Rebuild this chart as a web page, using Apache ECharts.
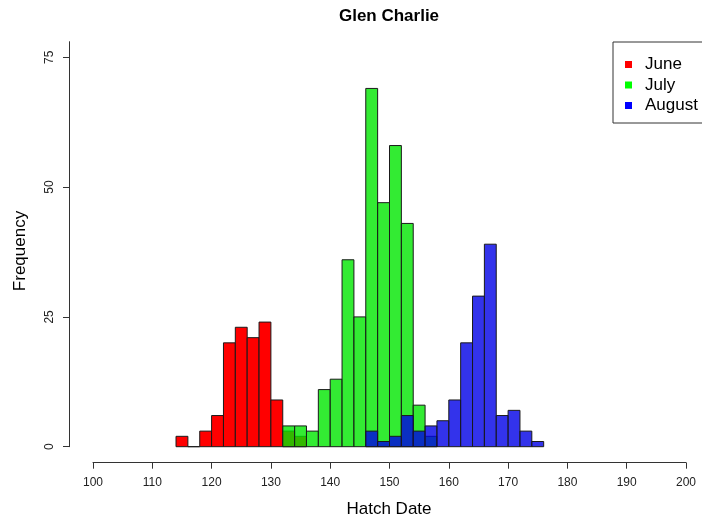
<!DOCTYPE html>
<html>
<head>
<meta charset="utf-8">
<script src="https://cdn.jsdelivr.net/npm/echarts@6/dist/echarts.min.js"></script>
<style>
html,body{margin:0;padding:0;background:#fff;}
#chart{width:702px;height:524px;}
</style>
</head>
<body>
<div id="chart"></div>
<script>
// Histogram bins (left edges, width 2 days) and counts
var binWidth = 2;
var juneEdges   = [114, 116, 118, 120, 122, 124, 126, 128, 130, 132, 134];
var juneCounts  = [2, 0, 3, 6, 20, 23, 21, 24, 9, 3, 2];
var julyEdges   = [132, 134, 136, 138, 140, 142, 144, 146, 148, 150, 152, 154, 156];
var julyCounts  = [4, 4, 3, 11, 13, 36, 25, 69, 47, 58, 43, 8, 2];
var augustEdges = [146, 148, 150, 152, 154, 156, 158, 160, 162, 164, 166, 168, 170, 172, 174];
var augustCounts= [3, 1, 2, 6, 3, 4, 5, 9, 20, 29, 39, 6, 7, 3, 1];
var xTicks = [100, 110, 120, 130, 140, 150, 160, 170, 180, 190, 200];
var yTicks = [0, 25, 50, 75];
var seriesNames = ['June', 'July', 'August'];

function toData(edges, counts) {
  return edges.map(function (e, i) { return [e, e + binWidth, counts[i]]; });
}

var FONT = '"Liberation Sans", Arial, sans-serif';

function makeSeries(name, edges, counts, legendColor, fill) {
  return {
    type: 'custom',
    name: name,
    itemStyle: { color: legendColor },
    encode: { x: [0, 1], y: 2 },
    data: toData(edges, counts),
    renderItem: function (params, api) {
      var x0 = api.value(0), x1 = api.value(1), v = api.value(2);
      var pTop = api.coord([x0, v]);
      var pBot = api.coord([x1, 0]);
      return {
        type: 'rect',
        shape: { x: pTop[0], y: pTop[1], width: pBot[0] - pTop[0], height: pBot[1] - pTop[1] },
        style: { fill: fill, stroke: '#1a1a1a', lineWidth: 1 }
      };
    }
  };
}

var chart = echarts.init(document.getElementById('chart'), null, { renderer: 'canvas' });
chart.setOption({
  animation: false,
  backgroundColor: '#ffffff',
  title: {
    text: 'Glen Charlie',
    left: 389,
    textAlign: 'center',
    top: 8,
    padding: 0,
    textStyle: { fontFamily: FONT, fontSize: 17, fontWeight: 'bold', color: '#000' }
  },
  legend: {
    data: seriesNames,
    orient: 'vertical',
    left: 613,
    top: 42,
    selectedMode: false,
    icon: 'rect',
    itemWidth: 7,
    itemHeight: 7,
    itemGap: 0.5,
    padding: [12.5, 14, 7.5, 12],
    borderColor: '#333',
    borderWidth: 1,
    textStyle: { fontFamily: FONT, fontSize: 17, color: '#000', lineHeight: 20, padding: [0, 0, 0, 8] }
  },
  grid: { left: 93, right: 16, top: 41.7, bottom: 77.3, containLabel: false },
  xAxis: {
    type: 'value',
    min: 100,
    max: 200,
    interval: 10,
    offset: 16,
    axisLine: { onZero: false, lineStyle: { color: '#333', width: 1 } },
    axisTick: { length: 6, lineStyle: { color: '#333' }, customValues: xTicks },
    axisLabel: { margin: 14, fontFamily: FONT, fontSize: 12, color: '#222', customValues: xTicks },
    splitLine: { show: false }
  },
  yAxis: {
    type: 'value',
    min: 0,
    max: 78,
    offset: 24,
    axisLine: { show: true, lineStyle: { color: '#333', width: 1 } },
    axisTick: { show: true, length: 6, lineStyle: { color: '#333' }, customValues: yTicks },
    axisLabel: { rotate: 90, margin: 13, fontFamily: FONT, fontSize: 12, color: '#222', customValues: yTicks },
    splitLine: { show: false }
  },
  graphic: [
    {
      type: 'text',
      x: 20, y: 251,
      rotation: Math.PI / 2,
      style: { text: 'Frequency', fontFamily: FONT, fontSize: 17, fill: '#000', textAlign: 'center', textVerticalAlign: 'middle' }
    },
    {
      type: 'text',
      x: 389, y: 509,
      style: { text: 'Hatch Date', fontFamily: FONT, fontSize: 17, fill: '#000', textAlign: 'center', textVerticalAlign: 'middle' }
    }
  ],
  series: [
    makeSeries(seriesNames[0], juneEdges, juneCounts, '#ff0000', '#ff0000'),
    makeSeries(seriesNames[1], julyEdges, julyCounts, '#00ff00', 'rgba(0,230,0,0.8)'),
    makeSeries(seriesNames[2], augustEdges, augustCounts, '#0000ff', 'rgba(0,0,230,0.8)')
  ]
});
</script>
</body>
</html>
